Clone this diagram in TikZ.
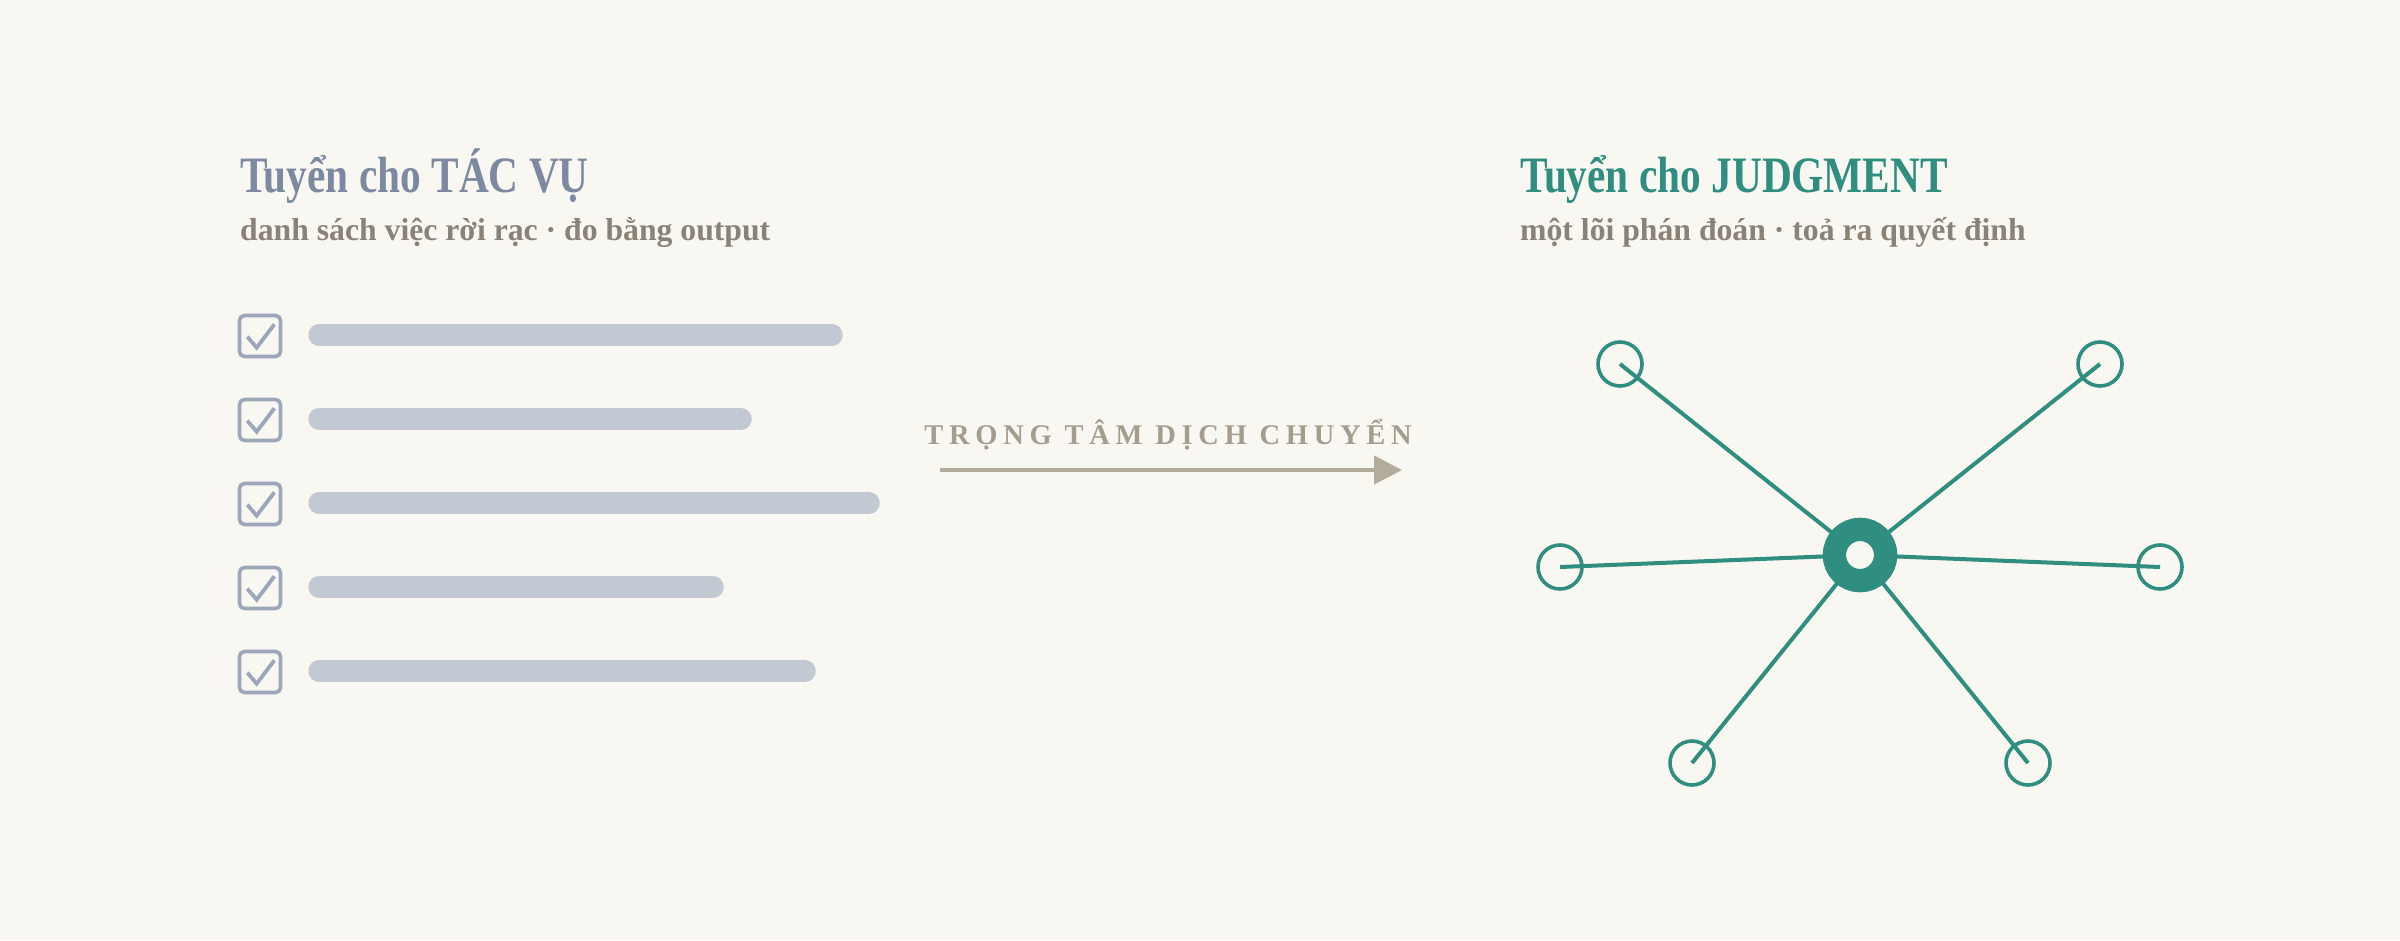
\documentclass[tikz,border=0pt]{standalone}
\usepackage{fontspec}
\usepackage{graphicx}
\setmainfont{Liberation Serif}
\newfontfamily\titlefont{Liberation Serif}
\newfontfamily\subfont{Liberation Serif}
\newfontfamily\capsfont[LetterSpace=20]{Liberation Serif}
\newcommand\narrowtext[1]{\scalebox{0.81}[1]{#1}}
\usetikzlibrary{arrows.meta}
\definecolor{bgc}{HTML}{F9F7F1}
\definecolor{slate}{HTML}{7D89A0}
\definecolor{warmgray}{HTML}{8A8276}
\definecolor{checkc}{HTML}{9CA8B9}
\definecolor{barc}{HTML}{C3C9D3}
\definecolor{tealc}{HTML}{2F8E7F}
\definecolor{arrowc}{HTML}{B3AC9C}
\definecolor{labelc}{HTML}{A49D8E}
\pgfdeclarelayer{bglayer}
\pgfdeclarelayer{edgelayer}
\pgfsetlayers{bglayer,edgelayer,main}
\tikzset{
  titletext/.style={anchor=base west, inner sep=0pt, font=\titlefont\bfseries\fontsize{51}{60}\selectfont},
  subtext/.style={anchor=base west, inner sep=0pt, text=warmgray, font=\subfont\bfseries\fontsize{31.7}{38}\selectfont},
  chkbox/.style={draw=checkc, line width=3.6pt, rounded corners=5pt, minimum width=41pt, minimum height=41pt, inner sep=0pt},
  chkmark/.style={draw=checkc, line width=3.8pt},
  barline/.style={draw=barc, line width=21.5pt, line cap=round},
  spoke/.style={draw=tealc, line width=4pt},
  leaf/.style={circle, draw=tealc, line width=3.6pt, minimum size=44pt, inner sep=0pt},
  hubstyle/.style={circle, draw=tealc, fill=bgc, line width=23.3pt, minimum size=51.3pt, inner sep=0pt},
  shiftarrow/.style={draw=arrowc, line width=4.5pt, -{Triangle[length=28pt, width=28pt]}},
  captext/.style={anchor=base, inner sep=0pt, text=labelc, font=\capsfont\bfseries\fontsize{28.5}{32}\selectfont}
}
\begin{document}
\begin{tikzpicture}[x=1pt, y=-1pt]
\begin{pgfonlayer}{bglayer}
\fill[bgc] (0,0) rectangle (2400,940);
\end{pgfonlayer}
\useasboundingbox (0,0) rectangle (2400,940);

% Left panel
\node[titletext, text=slate] (ltitle) at (240,192) {\narrowtext{Tuyển cho TÁC VỤ}};
\node[subtext] (lsub) at (240,240) {danh sách việc rời rạc · đo bằng output};

\foreach \i/\y/\xe in {1/336/832, 2/420/741, 3/504/869, 4/588/713, 5/672/805}{
  \node[chkbox] (box\i) at (260,\y) {};
  \draw[chkmark] ([shift={(-12.7,0.7)}]box\i.center) -- ([shift={(-3.3,11.7)}]box\i.center) -- ([shift={(14.3,-11.7)}]box\i.center);
  \coordinate (bs\i) at (319,\y-1);
  \coordinate (be\i) at (\xe,\y-1);
  \draw[barline] (bs\i) -- (be\i);
}

% Middle arrow
\node[captext] (cap) at (1168,444) {TRỌNG TÂM DỊCH CHUYỂN};
\coordinate (as) at (940,470);
\coordinate (ae) at (1402,470);
\draw[shiftarrow] (as) -- (ae);

% Right panel
\node[titletext, text=tealc] (rtitle) at (1520,192) {\narrowtext{Tuyển cho JUDGMENT}};
\node[subtext] (rsub) at (1520,240) {một lõi phán đoán · toả ra quyết định};

\node[leaf] (l1) at (1620,364) {};
\node[leaf] (l2) at (2100,364) {};
\node[leaf] (l3) at (1560,567) {};
\node[leaf] (l4) at (2160,567) {};
\node[leaf] (l5) at (1692,763) {};
\node[leaf] (l6) at (2028,763) {};
\node[hubstyle] (hub) at (1860,555) {};
\begin{pgfonlayer}{edgelayer}
\foreach \j in {1,...,6}{
  \draw[spoke] (hub.center) -- (l\j.center);
}
\end{pgfonlayer}
\end{tikzpicture}
\end{document}
